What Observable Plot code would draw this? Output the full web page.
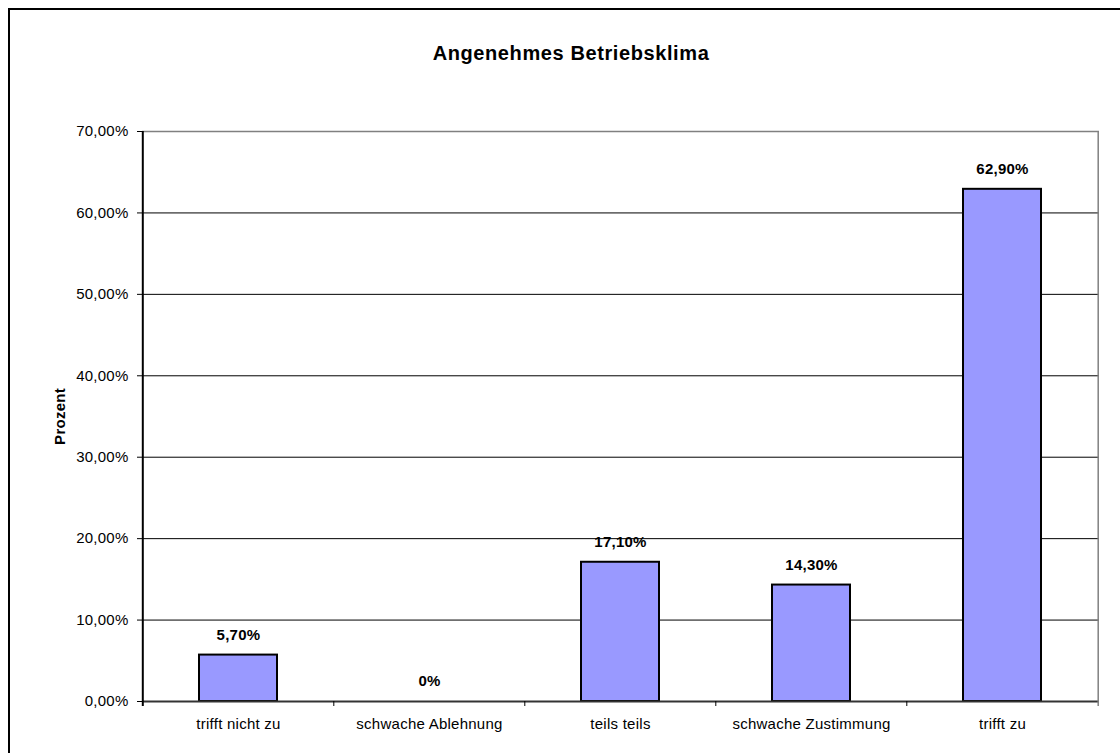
<!DOCTYPE html>
<html>
<head>
<meta charset="utf-8">
<script src="https://cdn.jsdelivr.net/npm/d3@7"></script>
<script src="https://cdn.jsdelivr.net/npm/@observablehq/plot@0.6"></script>
<style>
  html, body { margin: 0; padding: 0; background: #fff; }
  #chart { position: relative; width: 1120px; height: 753px; overflow: hidden; }
  #chart .border {
    position: absolute; left: 8px; top: 8px; width: 1200px; height: 800px;
    border-left: 2px solid #000; border-top: 2px solid #000; pointer-events: none;
  }
  #chart svg { position: absolute; left: 0; top: 0; }
  #chart svg text { letter-spacing: 0.25px; }
  #chart svg g.chart-title text { letter-spacing: 0.6px; }
</style>
</head>
<body>
<div id="chart"><div class="border"></div></div>
<script>
// Survey result: "Angenehmes Betriebsklima"
const title = "Angenehmes Betriebsklima";
const yLabel = "Prozent";
const categories = ["trifft nicht zu", "schwache Ablehnung", "teils teils", "schwache Zustimmung", "trifft zu"];
const values = [5.7, 0, 17.1, 14.3, 62.9];
const valueLabels = ["5,70%", "0%", "17,10%", "14,30%", "62,90%"];
const yTicks = [0, 10, 20, 30, 40, 50, 60, 70];
const yTickLabels = ["0,00%", "10,00%", "20,00%", "30,00%", "40,00%", "50,00%", "60,00%", "70,00%"];

const W = 1120, H = 753;
const ML = 142, MR = 21, MT = 131, MB = 52;
const step = (W - ML - MR) / categories.length;
const rows = categories.map((c, i) => ({category: c, value: values[i], label: valueLabels[i]}));

const chart = Plot.plot({
  width: W,
  height: H,
  marginTop: MT,
  marginRight: MR,
  marginBottom: MB,
  marginLeft: ML,
  style: {
    fontFamily: '"Liberation Sans", Arial, sans-serif',
    fontSize: "15px",
    color: "#000",
    background: "transparent",
    overflow: "visible"
  },
  x: {domain: categories, paddingInner: 0.59, paddingOuter: 0.295},
  y: {domain: [0, 70]},
  marks: [
    // horizontal gridlines
    Plot.ruleY(yTicks.filter((t) => t > 0 && t < 70), {stroke: "#000", strokeWidth: 1}),
    Plot.ruleY([70], {stroke: "#808080", strokeWidth: 1.5}),
    // bars
    Plot.barY(rows, {x: "category", y: "value", fill: "#9999FF", stroke: "#000", strokeWidth: 2}),
    // baseline
    Plot.ruleY([0], {stroke: "#333", strokeWidth: 2}),
    // category boundary ticks below the baseline
    Plot.ruleX(categories.slice(1), {x: (d) => d, dx: -step / 2, y1: 0, y2: 0, insetBottom: -5, stroke: "#000"}),
    // left axis line
    Plot.ruleX([categories[0]], {x: (d) => d, dx: -step / 2, y1: 70, y2: 0, insetBottom: -5, stroke: "#000", strokeWidth: 2}),
    // right edge of the plot area
    Plot.ruleX([categories[categories.length - 1]], {x: (d) => d, dx: step / 2, y1: 70, y2: 0, insetBottom: -5, stroke: "#808080", strokeWidth: 1.5}),
    Plot.axisY(yTicks, {
      tickSize: 5,
      tickPadding: 9,
      tickFormat: (d) => yTickLabels[yTicks.indexOf(d)],
      label: null
    }),
    Plot.axisX({tickSize: 0, tickPadding: 17, label: null}),
    // value labels
    Plot.text(rows, {x: "category", y: "value", text: "label", dy: -20, fontWeight: "bold"}),
    // y-axis title
    Plot.text([yLabel], {frameAnchor: "left", textAnchor: "middle", lineAnchor: "middle", rotate: -90, dx: -82, fontWeight: "bold"}),
    // chart title
    Plot.text([title], {
      frameAnchor: "top", textAnchor: "middle", lineAnchor: "middle",
      dx: -50, dy: -77.5, fontSize: 20, fontWeight: "bold", className: "chart-title"
    })
  ]
});

document.getElementById("chart").appendChild(chart);
</script>
</body>
</html>
